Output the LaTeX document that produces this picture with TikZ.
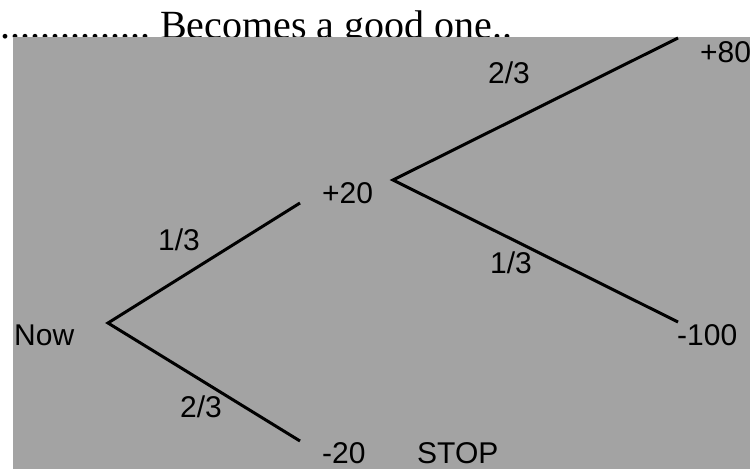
\documentclass[tikz,border=0pt]{standalone}
\usepackage{fontspec}
\setmainfont{Liberation Sans}
\newfontfamily\serifface{Liberation Serif}
\definecolor{bggray}{RGB}{163,163,163}
\begin{document}
\begin{tikzpicture}[x=1pt,y=-1pt,
  lbl/.style={anchor=base west,inner sep=0pt,font=\fontsize{30}{36}\selectfont},
  edge/.style={line width=3pt,black}]
\useasboundingbox (0,0) rectangle (750,469);
\node[anchor=base west,inner sep=0pt,font=\serifface\fontsize{40}{48}\selectfont] (title) at (0,38) {...............\ Becomes a good one..};
\fill[bggray] (13,37) rectangle (750,469);
% vertices and ends
\coordinate (v0) at (108,323);
\coordinate (e1) at (300,203);
\coordinate (e2) at (300,441);
\coordinate (v1) at (393,180);
\coordinate (e3) at (678,38);
\coordinate (e4) at (678,322);
\draw[edge] (e1) -- (v0) -- (e2);
\draw[edge] (e3) -- (v1) -- (e4);
% labels
\node[lbl] (now) at (14,345) {Now};
\node[lbl] (p20) at (322,203) {+20};
\node[lbl] (pa) at (158,250) {1/3};
\node[lbl] (pb) at (180,417) {2/3};
\node[lbl] (m20) at (322,463) {-20};
\node[lbl] (stop) at (417,463) {STOP};
\node[lbl] (pc) at (488,83) {2/3};
\node[lbl] (pd) at (490,273) {1/3};
\node[lbl] (p80) at (700,62) {+80};
\node[lbl] (m100) at (677,345) {-100};
\end{tikzpicture}
\end{document}
